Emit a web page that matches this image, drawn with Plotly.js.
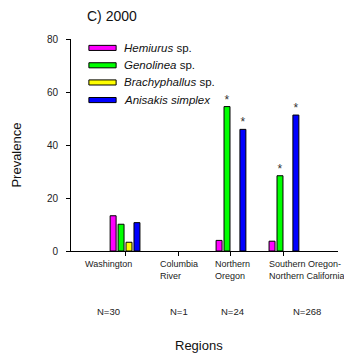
<!DOCTYPE html>
<html>
<head>
<meta charset="utf-8">
<script src="https://cdn.plot.ly/plotly-3.0.1.min.js"></script>
<style>html,body{margin:0;padding:0;background:#fff;}#chart{width:344px;height:354px;}</style>
</head>
<body>
<div id="chart"></div>
<script>
var categories = ["Washington", "Columbia River", "Northern Oregon", "Southern Oregon-Northern California"];
var categoryLabels = ["Washington", "Columbia<br>River", "Northern<br>Oregon", "Southern Oregon-<br>Northern California"];
var sampleSizes = ["N=30", "N=1", "N=24", "N=268"];
var seriesNames = ["<i>Hemiurus</i> sp.", "<i>Genolinea</i> sp.", "<i>Brachyphallus</i> sp.", "<i>Anisakis simplex</i>"];
var hemiurus = [13.3, 0, 4.0, 3.7];
var genolinea = [10.1, 0, 54.5, 28.4];
var brachyphallus = [3.3, 0, 0, 0];
var anisakis = [10.7, 0, 45.9, 51.3];
var hemiurusSig = ["", "", "", ""];
var genolineaSig = ["", "", "*", "*"];
var brachyphallusSig = ["", "", "", ""];
var anisakisSig = ["", "", "*", "*"];
var yTicks = [0, 20, 40, 60, 80];

var colors = ["#ff00ff", "#00ff00", "#ffff00", "#0000ff"];
var values = [hemiurus, genolinea, brachyphallus, anisakis];
var sigs = [hemiurusSig, genolineaSig, brachyphallusSig, anisakisSig];
var font = "Liberation Sans, Arial, sans-serif";

var traces = values.map(function (v, i) {
  return {
    type: "bar", x: categories, y: v, name: seriesNames[i],
    marker: {color: colors[i], line: {color: "#000", width: v.map(function (d) { return d > 0 ? 1 : 0; })}},
    text: sigs[i], textposition: "outside", constraintext: "none", cliponaxis: false,
    textfont: {family: font, size: 12, color: "#333"},
    showlegend: false, hoverinfo: "none"
  };
});

var shapes = [], annotations = [];
var rowY = [0.958, 0.876, 0.795, 0.712];
seriesNames.forEach(function (n, i) {
  shapes.push({type: "rect", xref: "paper", yref: "paper", x0: 0.067, x1: 0.169,
    y0: rowY[i] - 0.012, y1: rowY[i] + 0.012, fillcolor: colors[i], line: {color: "#000", width: 1}});
  annotations.push({xref: "paper", yref: "paper", x: 0.192, y: rowY[i], xanchor: "left", yanchor: "middle",
    text: n, showarrow: false, font: {family: font, size: 11.5, color: "#111"}});
});
var labelShift = [-17, 1, 2, 23];
categories.forEach(function (c, i) {
  annotations.push({xref: "x", yref: "paper", x: c, y: 0, yanchor: "top", xanchor: "center", yshift: -6,
    xshift: labelShift[i], text: categoryLabels[i], showarrow: false, align: "left",
    font: {family: font, size: 9, color: "#222"}});
  annotations.push({xref: "x", yref: "paper", x: c, y: 0, yanchor: "middle", xanchor: "center", yshift: -60,
    xshift: labelShift[i], text: sampleSizes[i], showarrow: false,
    font: {family: font, size: 9.5, color: "#222"}});
});
annotations.push({xref: "paper", yref: "paper", x: 0.48, y: 0, yanchor: "middle", xanchor: "center", yshift: -94,
  text: "Regions", showarrow: false, font: {family: font, size: 13, color: "#111"}});
annotations.push({xref: "paper", yref: "paper", x: 0, y: 0.45, xanchor: "center", yanchor: "middle", xshift: -54,
  text: "Prevalence", textangle: -90, showarrow: false, font: {family: font, size: 13, color: "#111"}});

var layout = {
  width: 344, height: 354,
  margin: {l: 71, r: 6, t: 39, b: 103},
  paper_bgcolor: "#fff", plot_bgcolor: "#fff",
  font: {family: font, color: "#222"},
  title: {text: "C) 2000", x: 87 / 344, xanchor: "left", y: 1 - 16 / 354, yanchor: "middle",
    font: {family: font, size: 14, color: "#111"}},
  barmode: "group", bargap: 0.4, bargroupgap: 0.25,
  xaxis: {type: "category", range: [-1.02, 4.02], showline: true, linecolor: "#000", linewidth: 1,
    ticks: "outside", ticklen: 4, tickcolor: "#000", showticklabels: false, showgrid: false, zeroline: false},
  yaxis: {range: [0, 80], tickvals: yTicks, showline: true, linecolor: "#000", linewidth: 1,
    ticks: "outside", ticklen: 4, tickcolor: "#000", showgrid: false, zeroline: false,
    ticklabelstandoff: 6,
    tickfont: {family: font, size: 10, color: "#222"}},
  shapes: shapes, annotations: annotations
};
Plotly.newPlot("chart", traces, layout, {staticPlot: true, displayModeBar: false});
</script>
</body>
</html>
